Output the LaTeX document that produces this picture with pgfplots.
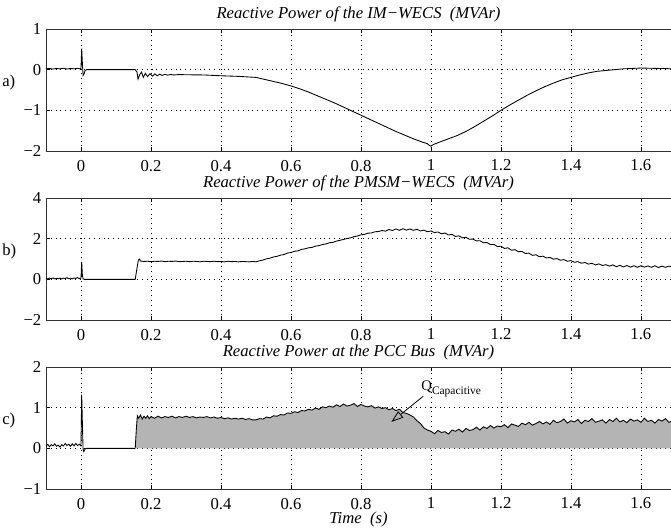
\documentclass[border=0pt]{standalone}
\usepackage{pgfplots}
\pgfplotsset{compat=1.18}
\usepackage{pgfplotstable}
\usepackage{fontspec}
\setmainfont{Liberation Serif}
\usetikzlibrary{arrows.meta}
\definecolor{fillgray}{RGB}{180,180,180}

\pgfplotstableread{
x y
-0.10 0.02
-0.09 0.03
-0.08 0.015
-0.07 0.03
-0.06 0.02
-0.05 0.035
-0.04 0.015
-0.03 0.03
-0.02 0.02
-0.01 0.035
-0.003 0.02
0.000 0.03
0.002 0.52
0.004 0.15
0.006 -0.14
0.009 -0.10
0.012 -0.02
0.016 0.00
0.155 0.00
0.160 -0.06
0.163 -0.23
0.168 -0.12
0.173 -0.06
0.178 -0.19
0.184 -0.09
0.190 -0.17
0.197 -0.10
0.204 -0.16
0.211 -0.105
0.218 -0.15
0.225 -0.11
0.232 -0.14
0.240 -0.115
0.248 -0.135
0.256 -0.12
0.266 -0.13
0.28 -0.12
0.30 -0.125
0.35 -0.13
0.40 -0.15
0.45 -0.165
0.50 -0.19
0.525 -0.24
0.55 -0.29
0.575 -0.34
0.60 -0.40
0.625 -0.47
0.65 -0.55
0.675 -0.64
0.70 -0.73
0.725 -0.82
0.75 -0.92
0.775 -1.02
0.80 -1.12
0.825 -1.22
0.85 -1.32
0.875 -1.42
0.90 -1.52
0.925 -1.61
0.95 -1.70
0.975 -1.78
0.99 -1.82
0.995 -1.86
1.000 -1.88
1.005 -1.85
1.01 -1.83
1.025 -1.78
1.05 -1.70
1.075 -1.62
1.10 -1.52
1.125 -1.40
1.15 -1.27
1.175 -1.14
1.20 -1.00
1.225 -0.87
1.25 -0.75
1.275 -0.63
1.30 -0.52
1.325 -0.42
1.35 -0.33
1.375 -0.25
1.40 -0.19
1.425 -0.13
1.45 -0.08
1.475 -0.04
1.50 -0.02
1.525 0.00
1.55 0.02
1.575 0.03
1.60 0.04
1.625 0.035
1.65 0.03
1.675 0.025
1.69 0.02
}\imdata

\pgfplotstableread{
x y
-0.100 0.05
-0.095 0.02
-0.090 0.06
-0.085 0.03
-0.080 0.07
-0.075 0.02
-0.070 0.05
-0.065 0.03
-0.060 0.06
-0.055 0.02
-0.050 0.06
-0.045 0.04
-0.040 0.08
-0.035 0.03
-0.030 0.06
-0.025 0.02
-0.020 0.07
-0.015 0.04
-0.010 0.09
-0.005 0.03
0.000 0.06
0.002 0.85
0.004 0.20
0.006 0.02
0.010 0.00
0.155 0.00
0.160 0.55
0.164 0.95
0.167 1.00
0.17 0.90
0.18 0.88
0.19 0.89
0.20 0.87
0.21 0.89
0.22 0.88
0.23 0.90
0.24 0.87
0.25 0.89
0.26 0.88
0.27 0.90
0.28 0.87
0.29 0.88
0.30 0.89
0.31 0.87
0.32 0.89
0.33 0.88
0.34 0.86
0.35 0.89
0.36 0.88
0.37 0.87
0.38 0.89
0.39 0.87
0.40 0.88
0.41 0.86
0.42 0.89
0.43 0.87
0.44 0.88
0.45 0.86
0.46 0.88
0.47 0.87
0.48 0.86
0.49 0.88
0.50 0.86
0.51 0.91
0.52 0.95
0.53 1.01
0.54 1.04
0.55 1.10
0.56 1.13
0.57 1.19
0.58 1.22
0.59 1.29
0.60 1.32
0.61 1.38
0.62 1.40
0.63 1.47
0.64 1.50
0.65 1.55
0.66 1.57
0.67 1.63
0.68 1.66
0.69 1.71
0.70 1.74
0.71 1.80
0.72 1.82
0.73 1.88
0.74 1.92
0.75 1.96
0.76 2.01
0.77 2.04
0.78 2.10
0.79 2.13
0.80 2.19
0.81 2.21
0.82 2.27
0.83 2.28
0.84 2.34
0.85 2.35
0.86 2.40
0.87 2.37
0.88 2.45
0.89 2.40
0.90 2.48
0.91 2.41
0.92 2.49
0.93 2.42
0.94 2.48
0.95 2.41
0.96 2.46
0.97 2.38
0.98 2.42
0.99 2.34
1.00 2.38
1.01 2.30
1.02 2.33
1.03 2.24
1.04 2.28
1.05 2.18
1.06 2.21
1.07 2.11
1.08 2.14
1.09 2.04
1.10 2.07
1.11 1.97
1.12 1.98
1.13 1.89
1.14 1.90
1.15 1.80
1.16 1.81
1.17 1.71
1.18 1.72
1.19 1.61
1.20 1.63
1.21 1.52
1.22 1.55
1.23 1.43
1.24 1.46
1.25 1.36
1.26 1.37
1.27 1.27
1.28 1.29
1.29 1.18
1.30 1.21
1.31 1.11
1.32 1.14
1.33 1.05
1.34 1.08
1.35 0.99
1.36 1.02
1.37 0.94
1.38 0.97
1.39 0.89
1.40 0.92
1.41 0.84
1.42 0.87
1.43 0.79
1.44 0.83
1.45 0.75
1.46 0.79
1.47 0.71
1.48 0.76
1.49 0.68
1.50 0.72
1.51 0.65
1.52 0.71
1.53 0.62
1.54 0.69
1.55 0.61
1.56 0.68
1.57 0.60
1.58 0.67
1.59 0.59
1.60 0.67
1.61 0.60
1.62 0.66
1.63 0.59
1.64 0.67
1.65 0.58
1.66 0.65
1.67 0.59
1.68 0.65
1.69 0.60
}\pmdata

\pgfplotstableread{
x y
-0.100 0.05
-0.095 0.10
-0.090 0.04
-0.085 0.09
-0.080 0.06
-0.075 0.11
-0.070 0.05
-0.065 0.08
-0.060 0.03
-0.055 0.09
-0.050 0.06
-0.045 0.12
-0.040 0.07
-0.035 0.10
-0.030 0.05
-0.025 0.11
-0.020 0.06
-0.015 0.12
-0.010 0.07
-0.005 0.10
0.000 0.06
0.002 1.32
0.004 0.60
0.006 -0.02
0.008 -0.08
0.011 -0.03
0.014 0.00
0.155 0.00
}\pccpre

\pgfplotstableread{
x y
0.155 0
0.158 0.45
0.161 0.80
0.165 0.74
0.17 0.82
0.175 0.72
0.18 0.79
0.185 0.74
0.19 0.80
0.195 0.73
0.20 0.78
0.21 0.74
0.22 0.79
0.23 0.75
0.24 0.78
0.25 0.76
0.26 0.79
0.27 0.75
0.28 0.78
0.29 0.76
0.30 0.79
0.31 0.76
0.32 0.78
0.33 0.75
0.34 0.77
0.35 0.76
0.36 0.78
0.37 0.75
0.38 0.77
0.39 0.74
0.40 0.76
0.41 0.73
0.42 0.75
0.43 0.72
0.44 0.74
0.45 0.72
0.46 0.74
0.47 0.71
0.48 0.73
0.49 0.70
0.50 0.70
0.51 0.73
0.52 0.72
0.53 0.77
0.54 0.75
0.55 0.80
0.56 0.79
0.57 0.83
0.58 0.82
0.59 0.87
0.60 0.86
0.61 0.90
0.62 0.88
0.63 0.93
0.64 0.92
0.65 0.96
0.66 0.94
0.67 0.99
0.68 0.96
0.69 1.02
0.70 1.00
0.71 1.04
0.72 1.01
0.73 1.07
0.74 1.03
0.75 1.09
0.76 1.04
0.77 1.06
0.78 1.10
0.79 1.03
0.80 1.08
0.81 1.04
0.82 1.02
0.83 1.05
0.84 0.99
0.85 1.02
0.86 0.98
0.87 1.00
0.88 0.95
0.89 0.98
0.90 0.93
0.91 0.96
0.92 0.88
0.93 0.86
0.94 0.82
0.95 0.77
0.96 0.68
0.97 0.61
0.98 0.50
0.99 0.45
1.00 0.42
1.01 0.36
1.02 0.44
1.03 0.39
1.04 0.41
1.05 0.35
1.06 0.45
1.07 0.42
1.08 0.47
1.09 0.40
1.10 0.49
1.11 0.44
1.12 0.46
1.13 0.52
1.14 0.45
1.15 0.53
1.16 0.49
1.17 0.56
1.18 0.50
1.19 0.55
1.20 0.53
1.21 0.58
1.22 0.51
1.23 0.60
1.24 0.57
1.25 0.54
1.26 0.62
1.27 0.58
1.28 0.64
1.29 0.57
1.30 0.61
1.31 0.66
1.32 0.60
1.33 0.65
1.34 0.59
1.35 0.69
1.36 0.63
1.37 0.66
1.38 0.72
1.39 0.62
1.40 0.68
1.41 0.65
1.42 0.71
1.43 0.61
1.44 0.69
1.45 0.66
1.46 0.73
1.47 0.64
1.48 0.67
1.49 0.70
1.50 0.62
1.51 0.71
1.52 0.66
1.53 0.74
1.54 0.65
1.55 0.69
1.56 0.63
1.57 0.72
1.58 0.67
1.59 0.70
1.60 0.64
1.61 0.74
1.62 0.66
1.63 0.69
1.64 0.62
1.65 0.71
1.66 0.67
1.67 0.73
1.68 0.64
1.69 0.68
}\pccmain

\pgfplotsset{
  every axis title/.style={at={(0.5,1)}, anchor=base, yshift=8.25pt, inner sep=0pt, font=\fontsize{12.5}{15}\selectfont\itshape},
  panel/.style={
    scale only axis,
    width=468.75pt, height=91.5pt,
    xmin=-0.1, xmax=1.686,
    axis x line*=box, axis y line*=left,
    axis line style={line width=0.7pt, black!80},
    tick align=inside,
    major tick length=3pt,
    every tick/.style={black, line width=0.6pt},
    xtick={0,0.2,0.4,0.6,0.8,1,1.2,1.4,1.6},
    xticklabels={0,0.2,0.4,0.6,0.8,1,1.2,1.4,1.6},
    xticklabel style={inner sep=0pt, yshift=-6.5pt},
    grid=major,
    major grid style={black, line width=0.6pt, dash pattern=on 0.6pt off 3pt},
    ylabel style={rotate=-90, anchor=west, at={(rel axis cs:0,0.56)}, xshift=-33pt, inner sep=0pt},
    clip=true,
  },
}

\begin{document}
\begin{tikzpicture}[font=\fontsize{12.5}{15}\selectfont]
\begin{axis}[panel, at={(0,0)}, anchor=north west,
  ymin=-2, ymax=1, ytick={-2,-1,0,1},
  yticklabels={\textminus2,\textminus1,0,1},
  title={Reactive Power of the IM−WECS~~(MVAr)},
  ylabel={a)}]
\addplot[black, line width=0.65pt] table {\imdata};
\end{axis}

\begin{axis}[panel, at={(0,-126.75pt)}, anchor=north west,
  ymin=-2, ymax=4, ytick={-2,0,2,4},
  yticklabels={\textminus2,0,2,4},
  title={Reactive Power of the PMSM−WECS~~(MVAr)},
  ylabel={b)}]
\addplot[black, line width=0.65pt] table {\pmdata};
\end{axis}

\begin{axis}[panel, at={(0,-253.5pt)}, anchor=north west,
  ymin=-1, ymax=2, ytick={-1,0,1,2},
  yticklabels={\textminus1,0,1,2},
  title={Reactive Power at the PCC Bus~~(MVAr)},
  ylabel={c)},
  xlabel={Time~~(s)},
  xlabel style={at={(0.5,0)}, anchor=base, yshift=-25.5pt, inner sep=0pt, font=\fontsize{12.5}{15}\selectfont\itshape}]
\addplot[fill=fillgray, draw=none] table {\pccmain} \closedcycle;
\addplot[black, line width=0.65pt] table {\pccpre};
\addplot[black, line width=0.65pt] table {\pccmain};
\draw[-{Triangle[open, length=9pt, width=6pt]}, line width=0.6pt] (axis cs:0.978,1.28) -- (axis cs:0.887,0.65);
\node[anchor=base west, inner sep=0pt] at (axis cs:0.972,1.41) {\fontsize{11}{13}\selectfont Q\raisebox{-0.55ex}{\fontsize{8.6}{10}\selectfont Capacitive}};
\end{axis}
\pgfresetboundingbox
\path[use as bounding box] (-34.5pt,21.75pt) rectangle (468.75pt,-374.25pt);
\end{tikzpicture}
\end{document}
